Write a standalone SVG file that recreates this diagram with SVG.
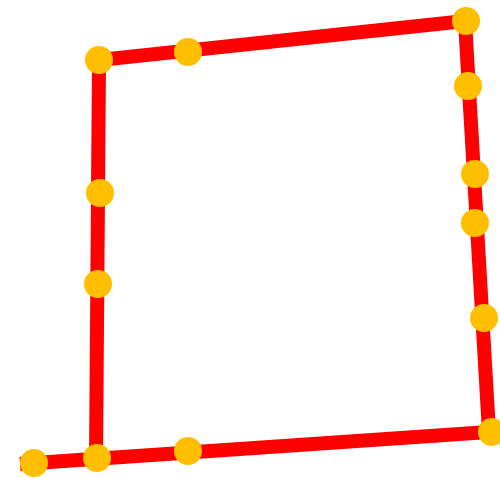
<svg xmlns="http://www.w3.org/2000/svg" width="500" height="478" viewBox="0 0 500 478">
<style>
.line{fill:none;stroke:#FF0000;stroke-width:14;stroke-linejoin:miter;stroke-linecap:butt}
.dot{fill:#FFBF00}
</style>
<rect width="500" height="478" fill="#FFFFFF"/>
<g id="connectors">
<path class="line" d="M20,464 L489,432 L465,21 L99,60 L96,459"/>
</g>
<g id="n1"><circle class="dot" cx="34" cy="463" r="14"/></g>
<g id="n2"><circle class="dot" cx="97" cy="458" r="14"/></g>
<g id="n3"><circle class="dot" cx="188" cy="451" r="14"/></g>
<g id="n4"><circle class="dot" cx="492" cy="432" r="14"/></g>
<g id="n5"><circle class="dot" cx="484" cy="318" r="14"/></g>
<g id="n6"><circle class="dot" cx="475" cy="223" r="14"/></g>
<g id="n7"><circle class="dot" cx="475" cy="174" r="14"/></g>
<g id="n8"><circle class="dot" cx="468" cy="86" r="14"/></g>
<g id="n9"><circle class="dot" cx="466" cy="21" r="14"/></g>
<g id="n10"><circle class="dot" cx="188" cy="52" r="14"/></g>
<g id="n11"><circle class="dot" cx="99" cy="60" r="14"/></g>
<g id="n12"><circle class="dot" cx="100" cy="193" r="14"/></g>
<g id="n13"><circle class="dot" cx="98" cy="284" r="14"/></g>
</svg>
